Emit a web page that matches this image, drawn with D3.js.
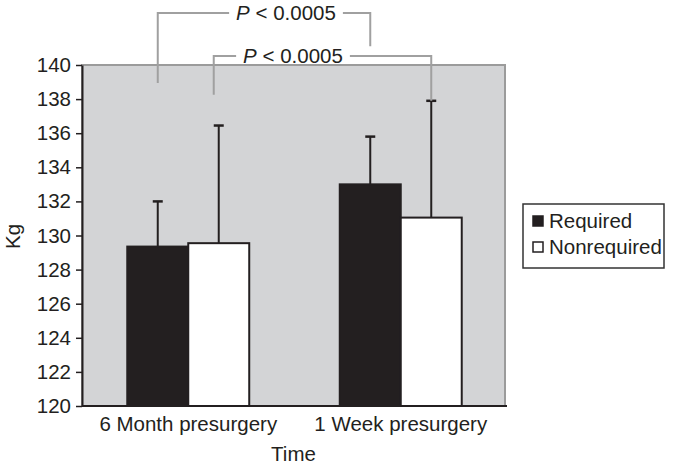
<!DOCTYPE html>
<html><head><meta charset="utf-8">
<script src="https://cdn.jsdelivr.net/npm/d3@7"></script>
<style>
html,body{margin:0;padding:0;background:#fff;}
text{font-family:"Liberation Sans",Arial,Helvetica,sans-serif;fill:#231f20;}
</style></head>
<body><svg id="chart" width="676" height="467"></svg>
<script>
// ---- data ----
const categories = ["6 Month presurgery", "1 Week presurgery"];
const seriesNames = ["Required", "Nonrequired"];
const requiredValues = [129.35, 133.0];
const requiredErrTop = [132.0, 135.8];
const nonrequiredValues = [129.55, 131.05];
const nonrequiredErrTop = [136.45, 137.9];
const yTicks = [120,122,124,126,128,130,132,134,136,138,140];
const yDomain = [120, 140];
const pLabels = ["P < 0.0005", "P < 0.0005"];
// brackets: [series, level (kg), left end (kg), right end (kg)]
const bracketSeries = ["Required", "Nonrequired"];
const bracketLevel = [143.05, 140.53];
const bracketLeftEnd = [138.95, 138.25];
const bracketRightEnd = [141.1, 137.9];

const W = 676, H = 467;
const m = {left: 82, right: 507, top: 65, bottom: 406};
const ink = "#231f20";
const fs = 20.5;

const svg = d3.select("#chart");
const x0 = d3.scaleBand().domain(categories).range([m.left, m.right])
  .paddingInner(0.426).paddingOuter(0.213);
const x1 = d3.scaleBand().domain(seriesNames).range([0, x0.bandwidth()]);
const y = d3.scaleLinear().domain(yDomain).range([m.bottom, m.top]);

// plot background
svg.append("rect").attr("x", m.left).attr("y", m.top)
  .attr("width", m.right - 2 - m.left).attr("height", m.bottom - m.top)
  .attr("fill", "#d3d4d6").attr("stroke", "#9b9b9b").attr("stroke-width", 2);

const data = [];
categories.forEach((c, i) => {
  data.push({cat: c, s: "Required", v: requiredValues[i], e: requiredErrTop[i]});
  data.push({cat: c, s: "Nonrequired", v: nonrequiredValues[i], e: nonrequiredErrTop[i]});
});
const color = d3.scaleOrdinal().domain(seriesNames).range([ink, "#ffffff"]);
const cx = d => x0(d.cat) + x1(d.s) + x1.bandwidth() / 2;

// error bars (behind bars)
const eb = svg.append("g").attr("stroke", ink).attr("stroke-width", 2);
data.forEach(d => {
  eb.append("line").attr("x1", cx(d)).attr("x2", cx(d)).attr("y1", y(d.v)).attr("y2", y(d.e));
  eb.append("line").attr("x1", cx(d) - 5).attr("x2", cx(d) + 5).attr("y1", y(d.e)).attr("y2", y(d.e)).attr("stroke-width", 2.5);
});

// bars
svg.append("g").selectAll("rect").data(data).join("rect")
  .attr("x", d => x0(d.cat) + x1(d.s))
  .attr("y", d => y(d.v))
  .attr("width", x1.bandwidth())
  .attr("height", d => y(yDomain[0]) - y(d.v))
  .attr("fill", d => color(d.s))
  .attr("stroke", ink).attr("stroke-width", 2);

// y axis
const ya = svg.append("g").attr("transform", `translate(${m.left},0)`)
  .call(d3.axisLeft(y).tickValues(yTicks).tickSize(6).tickPadding(5).tickSizeOuter(0));
ya.select(".domain").attr("stroke", ink).attr("stroke-width", 2);
ya.selectAll(".tick line").attr("stroke", ink).attr("stroke-width", 1.5);
ya.selectAll(".tick text").attr("font-size", fs).attr("fill", ink)
  .style("font-family", '"Liberation Sans",Arial,sans-serif');

// x axis
const xa = svg.append("g").attr("transform", `translate(0,${m.bottom})`)
  .call(d3.axisBottom(x0).tickSize(0).tickPadding(10).tickSizeOuter(0));
xa.select(".domain").attr("stroke", ink).attr("stroke-width", 2)
  .attr("d", `M${m.left},0H${m.right}`);
xa.selectAll(".tick text").attr("font-size", fs).attr("fill", ink)
  .attr("dy", null).attr("y", 25)
  .style("font-family", '"Liberation Sans",Arial,sans-serif');

// axis titles
svg.append("text").attr("x", (m.left + m.right) / 2 - 1).attr("y", 461)
  .attr("text-anchor", "middle").attr("font-size", fs).text("Time");
svg.append("text").attr("transform", `translate(20,${(m.top + m.bottom) / 2 + 1}) rotate(-90)`)
  .attr("text-anchor", "middle").attr("font-size", fs).text("Kg");

// significance brackets
const labelShift = [22, -29.5];
bracketSeries.forEach((s, i) => {
  const xl = x0(categories[0]) + x1(s) + x1.bandwidth() / 2 - (i === 1 ? 5 : 0);
  const xr = x0(categories[1]) + x1(s) + x1.bandwidth() / 2;
  const yl = y(bracketLevel[i]);
  svg.append("path")
    .attr("d", `M${xl},${y(bracketLeftEnd[i])}V${yl}H${xr}V${y(bracketRightEnd[i])}`)
    .attr("fill", "none").attr("stroke", "#a0a0a0").attr("stroke-width", 2);
  const tx = (xl + xr) / 2 + labelShift[i];
  const t = svg.append("text").attr("x", tx).attr("y", yl + 7)
    .attr("text-anchor", "middle").attr("font-size", fs);
  const parts = pLabels[i].split(" ");
  t.append("tspan").attr("font-style", "italic").text(parts[0]);
  t.append("tspan").text(" " + parts.slice(1).join(" "));
  const bb = t.node().getBBox();
  svg.insert("rect", () => t.node()).attr("x", bb.x - 7).attr("y", yl - 3)
    .attr("width", bb.width + 14).attr("height", 6).attr("fill", "#fff");
});

// legend
const lg = svg.append("g");
lg.append("rect").attr("x", 523).attr("y", 204).attr("width", 141).attr("height", 64)
  .attr("fill", "#fff").attr("stroke", "#333").attr("stroke-width", 1.5);
seriesNames.forEach((s, i) => {
  lg.append("rect").attr("x", 533).attr("y", 216 + i * 26).attr("width", 10).attr("height", 10)
    .attr("fill", color(s)).attr("stroke", ink).attr("stroke-width", 1.5);
  lg.append("text").attr("x", 549).attr("y", 228 + i * 26).attr("font-size", fs).text(s);
});
</script></body></html>
